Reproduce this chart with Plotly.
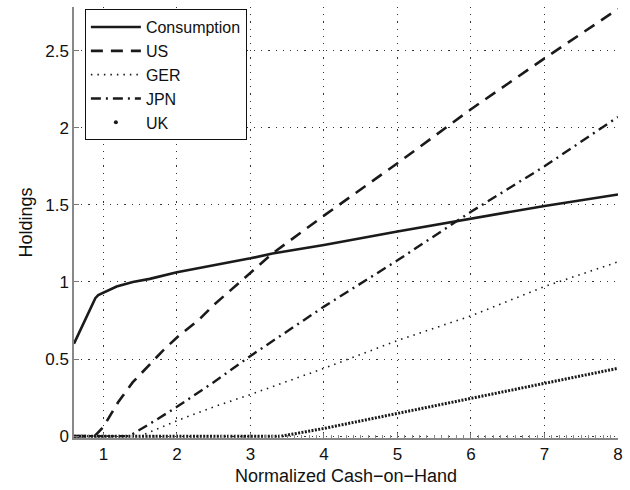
import plotly.graph_objects as go

# Consumption
cons_x = [0.6, 0.89, 0.93, 1.0, 1.18, 1.4, 1.63, 2.0, 2.5, 3.0, 3.3, 4.0, 5.0, 6.0, 7.0, 8.0]
cons_y = [0.6, 0.895, 0.915, 0.93, 0.97, 1.0, 1.02, 1.063, 1.108, 1.153, 1.185, 1.24, 1.327, 1.411, 1.493, 1.567]
# US
us_x = [0.6, 0.88, 1.0, 1.2, 1.4, 1.6, 1.8, 2.0, 2.3, 2.5, 3.0, 3.3, 4.0, 5.0, 6.0, 7.0, 8.0]
us_y = [0.0, 0.0, 0.06, 0.22, 0.35, 0.45, 0.55, 0.64, 0.755, 0.85, 1.06, 1.185, 1.43, 1.77, 2.12, 2.45, 2.77]
# GER
ger_x = [0.6, 1.5, 2.0, 2.5, 3.0, 4.0, 5.0, 6.0, 7.0, 8.0]
ger_y = [0.0, 0.0, 0.1, 0.19, 0.27, 0.44, 0.62, 0.78, 0.97, 1.13]
# JPN
jpn_x = [0.6, 1.35, 1.7, 2.0, 2.5, 3.0, 4.0, 5.0, 6.0, 7.0, 8.0]
jpn_y = [0.0, 0.0, 0.1, 0.19, 0.35, 0.52, 0.84, 1.14, 1.455, 1.75, 2.07]
# UK
uk_x = [0.6, 3.42, 4.0, 5.0, 6.0, 7.0, 8.0]
uk_y = [0.0, 0.0, 0.05, 0.148, 0.245, 0.34, 0.44]

x_ticks = [1, 2, 3, 4, 5, 6, 7, 8]
y_ticks = [0, 0.5, 1, 1.5, 2, 2.5]
y_tick_labels = ["0", "0.5", "1", "1.5", "2", "2.5"]

FONT = "Liberation Sans, Arial, Helvetica, sans-serif"
C = "#1a1a1a"

fig = go.Figure()
fig.add_trace(go.Scatter(x=cons_x, y=cons_y, mode="lines", name="Consumption",
                         line=dict(color=C, width=2.6)))
fig.add_trace(go.Scatter(x=us_x, y=us_y, mode="lines", name="US",
                         line=dict(color=C, width=2.6, dash="12px,8px")))
fig.add_trace(go.Scatter(x=ger_x, y=ger_y, mode="lines", name="GER",
                         line=dict(color=C, width=1.6, dash="1.5px,5px")))
fig.add_trace(go.Scatter(x=jpn_x, y=jpn_y, mode="lines", name="JPN",
                         line=dict(color=C, width=2.4, dash="10px,5px,2px,5px")))
fig.add_trace(go.Scatter(x=uk_x, y=uk_y, mode="lines", name="UK", showlegend=False,
                         line=dict(color=C, width=3, dash="2px,1.4px")))
fig.add_trace(go.Scatter(x=[None], y=[None], mode="markers", name="UK",
                         marker=dict(color=C, size=4)))

fig.update_layout(
    width=630, height=490,
    margin=dict(l=74, r=10, t=7, b=51),
    paper_bgcolor="white", plot_bgcolor="white",
    font=dict(family=FONT, size=17, color="#111"),
    showlegend=True,
    legend=dict(x=0.02, y=0.995, xanchor="left", yanchor="top",
                bgcolor="white", bordercolor="#111", borderwidth=1,
                font=dict(size=16, family=FONT, color="#111"),
                itemwidth=50, tracegroupgap=0),
    xaxis=dict(range=[0.6, 8], tickmode="array", tickvals=x_ticks,
               ticks="inside", ticklen=5, tickcolor="#777",
               showline=True, linecolor="#888", linewidth=1.5,
               showgrid=True, gridcolor="#333", gridwidth=1.2, griddash="1.2px,6px",
               zeroline=False, mirror=False,
               minor=dict(ticks="inside", ticklen=3, dtick=0.1, tickcolor="#888", showgrid=False),
               title=dict(text="Normalized Cash\u2212on\u2212Hand", font=dict(size=18), standoff=6),
               tickfont=dict(size=17)),
    yaxis=dict(range=[-0.012, 2.783], tickmode="array", tickvals=y_ticks, ticktext=y_tick_labels,
               ticks="inside", ticklen=5, tickcolor="#777",
               showline=True, linecolor="#888", linewidth=1.5,
               showgrid=True, gridcolor="#333", gridwidth=1.2, griddash="1.2px,6px",
               zeroline=False, mirror=False,
               title=dict(text="Holdings", font=dict(size=18), standoff=8),
               tickfont=dict(size=17)),
)

fig.write_html("out.html")
